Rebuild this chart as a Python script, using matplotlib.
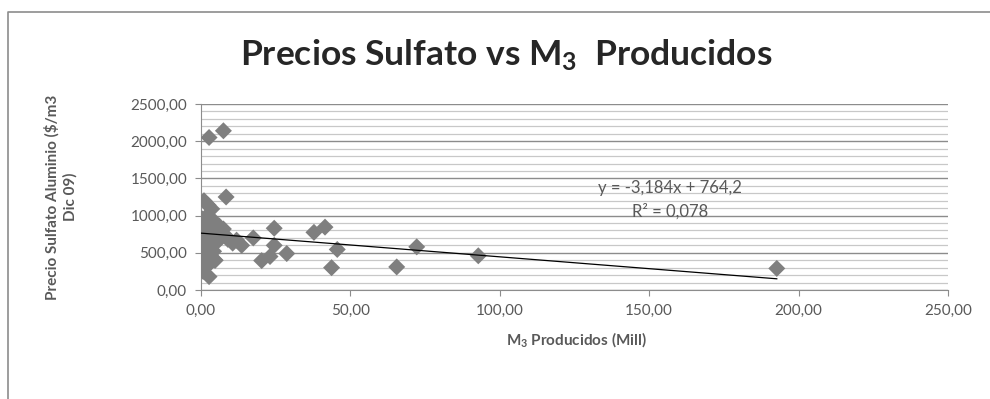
import numpy as np
import matplotlib
matplotlib.use("Agg")
import matplotlib.pyplot as plt
from matplotlib.lines import Line2D
from matplotlib.ticker import FuncFormatter, MultipleLocator

plt.rcParams["font.family"] = ["Lato", "DejaVu Sans"]
plt.rcParams["mathtext.fontset"] = "custom"
plt.rcParams["mathtext.rm"] = "Lato"
plt.rcParams["mathtext.bf"] = "Lato:bold"

# ---------------- Datos ----------------
m3_producidos = [
    0.2, 0.4, 0.6, 0.8, 1.0, 1.2, 0.3, 1.5, 1.8, 2.0, 2.3, 2.6, 3.0, 3.4,
    3.8, 4.2, 4.7, 5.2, 5.8, 6.5, 7.5, 1.1, 2.1, 3.5, 0.5, 1.6, 2.8, 4.0,
    0.7, 8.0, 9.0,
    2.7, 7.5, 8.4, 1.0, 2.4, 3.6, 6.1, 24.5, 41.5, 37.8, 17.5, 11.9, 10.6,
    13.6, 24.5, 45.6, 72.2, 28.7, 23.1, 20.3, 43.7, 65.5, 2.7, 4.7, 92.8,
    192.7,
]
precio_sulfato = [
    310, 420, 560, 680, 790, 900, 960, 500, 620, 740, 850, 450, 560, 680,
    800, 520, 400, 640, 760, 700, 820, 360, 330, 380, 870, 980, 910, 940,
    250, 740, 680,
    2050, 2140, 1250, 1200, 1140, 1090, 860, 830, 845, 775, 700, 670, 630,
    600, 600, 545, 580, 490, 450, 395, 300, 310, 180, 400, 460,
    290,
]

# tendencia lineal (Excel)
pendiente = -3.184
intercepto = 764.2

gris_txt = "#595959"

fig = plt.figure(figsize=(9.9, 3.99), dpi=100)
ax = fig.add_axes([201 / 990, 1 - 290 / 399, (948 - 201) / 990, (290 - 104) / 399])

ax.scatter(m3_producidos, precio_sulfato, marker="D", s=75, color="#7f7f7f",
           edgecolors="none", zorder=3)

x_line = np.array([0, max(m3_producidos)])
ax.plot(x_line, pendiente * x_line + intercepto, color="black", lw=0.9, zorder=4)

ax.set_xlim(0, 250)
ax.set_ylim(0, 2500)
ax.xaxis.set_major_locator(MultipleLocator(50))
ax.yaxis.set_major_locator(MultipleLocator(500))
ax.yaxis.set_minor_locator(MultipleLocator(100))
fmt = FuncFormatter(lambda v, _: f"{v:.2f}".replace(".", ","))
ax.xaxis.set_major_formatter(fmt)
ax.yaxis.set_major_formatter(fmt)

ax.grid(which="major", axis="y", color="#8c8c8c", lw=1.0)
ax.grid(which="minor", axis="y", color="#c8c8c8", lw=0.9)
ax.set_axisbelow(True)

for s in ["top", "right"]:
    ax.spines[s].set_visible(False)
for s in ["left", "bottom"]:
    ax.spines[s].set_color("#8c8c8c")
ax.tick_params(axis="both", which="major", length=4, color="#8c8c8c",
               labelsize=11, labelcolor=gris_txt, pad=6)
ax.tick_params(axis="y", which="minor", length=0)

ax.text(157, 1370, "y = -3,184x + 764,2", ha="center", va="center",
        fontsize=12, color=gris_txt)
ax.text(157, 1050, "R² = 0,078", ha="center", va="center",
        fontsize=12, color=gris_txt)

fig.text(506 / 990, 1 - 55 / 399,
         r"Precios Sulfato vs $\mathbf{M_3}$  Producidos",
         ha="center", va="center", fontsize=25.5, fontweight="bold", color="#262626")
fig.text(576 / 990, 1 - 340 / 399, r"$\mathbf{M_3}$ Producidos (Mill)",
         ha="center", va="center", fontsize=11, fontweight="bold", color=gris_txt)
fig.text(61 / 990, 1 - 197 / 399, "Precio Sulfato Aluminio ($/m3\nDic 09)",
         ha="center", va="center", rotation=90, fontsize=11, fontweight="bold",
         color=gris_txt, linespacing=1.25)

# borde del área del gráfico (solo se ve arriba y a la izquierda)
borde_x = [8 / 990, 8 / 990, 1.0]
borde_y = [0.0, 1 - 12 / 399, 1 - 12 / 399]
fig.add_artist(Line2D(borde_x, borde_y, transform=fig.transFigure,
                      color="#8c8c8c", lw=1.2))

fig.savefig("out.png", dpi=100)
